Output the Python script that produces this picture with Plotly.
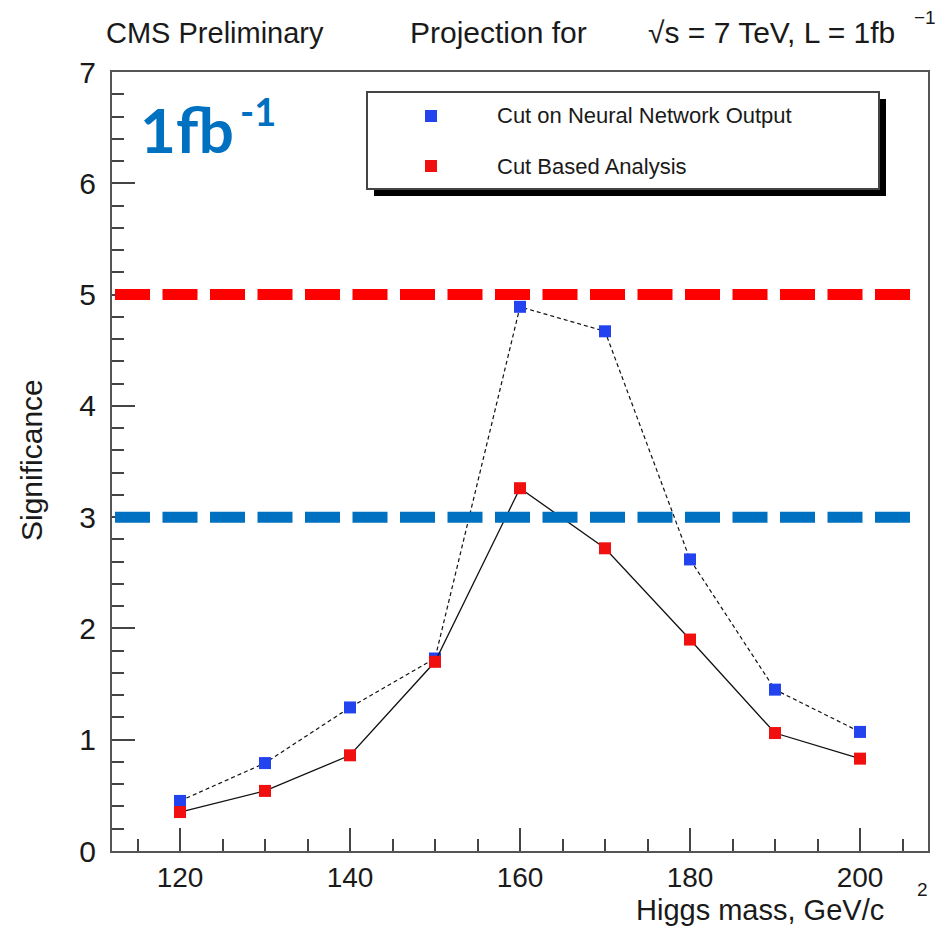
import plotly.graph_objects as go

# ---- data ----
higgs_mass = [120, 130, 140, 150, 160, 170, 180, 190, 200]
sig_neural_net = [0.45, 0.79, 1.29, 1.73, 4.89, 4.67, 2.62, 1.45, 1.07]
sig_cut_based = [0.35, 0.54, 0.86, 1.70, 3.26, 2.72, 1.90, 1.06, 0.83]
x_tick_vals = [120, 140, 160, 180, 200]
y_tick_vals = [0, 1, 2, 3, 4, 5, 6, 7]
threshold_5sigma = 5
threshold_3sigma = 3
series_names = ["Cut on Neural Network Output", "Cut Based Analysis"]

BLUE_M = "#2343ef"
RED_M = "#f01010"
RED_L = "#ff0000"
BLUE_L = "#0070c0"
FONT = "Liberation Sans"

# plot-area geometry (px) used for placing annotations
L, R, T, B = 112, 928, 72, 851
W, H = R - L, B - T


def px(x):
    return (x - L) / W


def py(y):
    return (B - y) / H


fig = go.Figure()

fig.add_trace(go.Scatter(
    x=higgs_mass, y=sig_neural_net, mode="lines+markers", name=series_names[0],
    line=dict(color="#111111", width=1.2, dash="4px,3px"),
    marker=dict(symbol="square", size=12, color=BLUE_M, line=dict(width=0)),
    showlegend=False,
))
fig.add_trace(go.Scatter(
    x=higgs_mass, y=sig_cut_based, mode="lines+markers", name=series_names[1],
    line=dict(color="#111111", width=1.3),
    marker=dict(symbol="square", size=12, color=RED_M, line=dict(width=0)),
    showlegend=False,
))

shapes = []
# threshold lines (overlaid)
for yv, col in [(threshold_5sigma, RED_L), (threshold_3sigma, BLUE_L)]:
    shapes.append(dict(type="line", xref="paper", yref="y", x0=px(115), x1=px(917),
                       y0=yv, y1=yv, layer="above",
                       line=dict(color=col, width=11, dash="35px,12.5px")))

# legend box with shadow
shapes.append(dict(type="rect", xref="paper", yref="paper", x0=px(374), x1=px(886),
                   y0=py(196), y1=py(99), fillcolor="black", line=dict(width=0), layer="above"))
shapes.append(dict(type="rect", xref="paper", yref="paper", x0=px(367), x1=px(879),
                   y0=py(189), y1=py(92), fillcolor="white",
                   line=dict(color="#444444", width=2), layer="above"))
for cy, col in [(116, BLUE_M), (166, RED_M)]:
    shapes.append(dict(type="rect", xref="paper", yref="paper", x0=px(425), x1=px(437),
                       y0=py(cy + 6), y1=py(cy - 6), fillcolor=col, line=dict(width=0),
                       layer="above"))

ann = []


def add_text(text, x, y, size, xanchor="left", yanchor="middle", color="#1a1a1a",
             family=FONT, angle=0):
    ann.append(dict(text=text, x=px(x), y=py(y), xref="paper", yref="paper",
                    xanchor=xanchor, yanchor=yanchor, showarrow=False, textangle=angle,
                    font=dict(family=family, size=size, color=color)))


add_text("CMS Preliminary", 104, 33, 29)
add_text("Projection for", 408, 33, 30)
add_text("√s = 7 TeV, L = 1fb", 646, 33, 30)
add_text("−1", 912, 17, 19)
add_text(series_names[0], 495, 116, 22)
add_text(series_names[1], 495, 166, 22)
add_text("Significance", 31, 460, 30, xanchor="center", angle=-90)
add_text("Higgs mass, GeV/c", 886, 910, 29, xanchor="right")
add_text("2", 922, 889, 19, xanchor="center")
add_text("<b>1fb</b>", 138, 129, 62, color=BLUE_L, family="Lato")
add_text("<b>-1</b>", 238, 111, 38, color=BLUE_L, family="Lato")

axis_common = dict(
    showgrid=False, zeroline=False, showline=True, mirror=True,
    linecolor="#555555", linewidth=2,
    ticks="inside", ticklen=23, tickwidth=2, tickcolor="#444444",
)

fig.update_layout(
    width=946, height=930,
    margin=dict(l=L, r=946 - R, t=T, b=930 - B, pad=0),
    paper_bgcolor="white", plot_bgcolor="white",
    xaxis=dict(range=[112, 208], tickvals=x_tick_vals, ticklabelstandoff=0,
               tickfont=dict(family=FONT, size=28, color="#1a1a1a"),
               minor=dict(ticks="inside", ticklen=12, tickwidth=2, tickcolor="#444444",
                          tick0=115, dtick=5),
               **axis_common),
    yaxis=dict(range=[0, 7], tickvals=y_tick_vals, ticklabelstandoff=8,
               tickfont=dict(family=FONT, size=30, color="#1a1a1a"),
               minor=dict(ticks="inside", ticklen=12, tickwidth=2, tickcolor="#444444",
                          tick0=0, dtick=0.2),
               **axis_common),
    shapes=shapes, annotations=ann, showlegend=False,
)

fig.write_html("out.html")
